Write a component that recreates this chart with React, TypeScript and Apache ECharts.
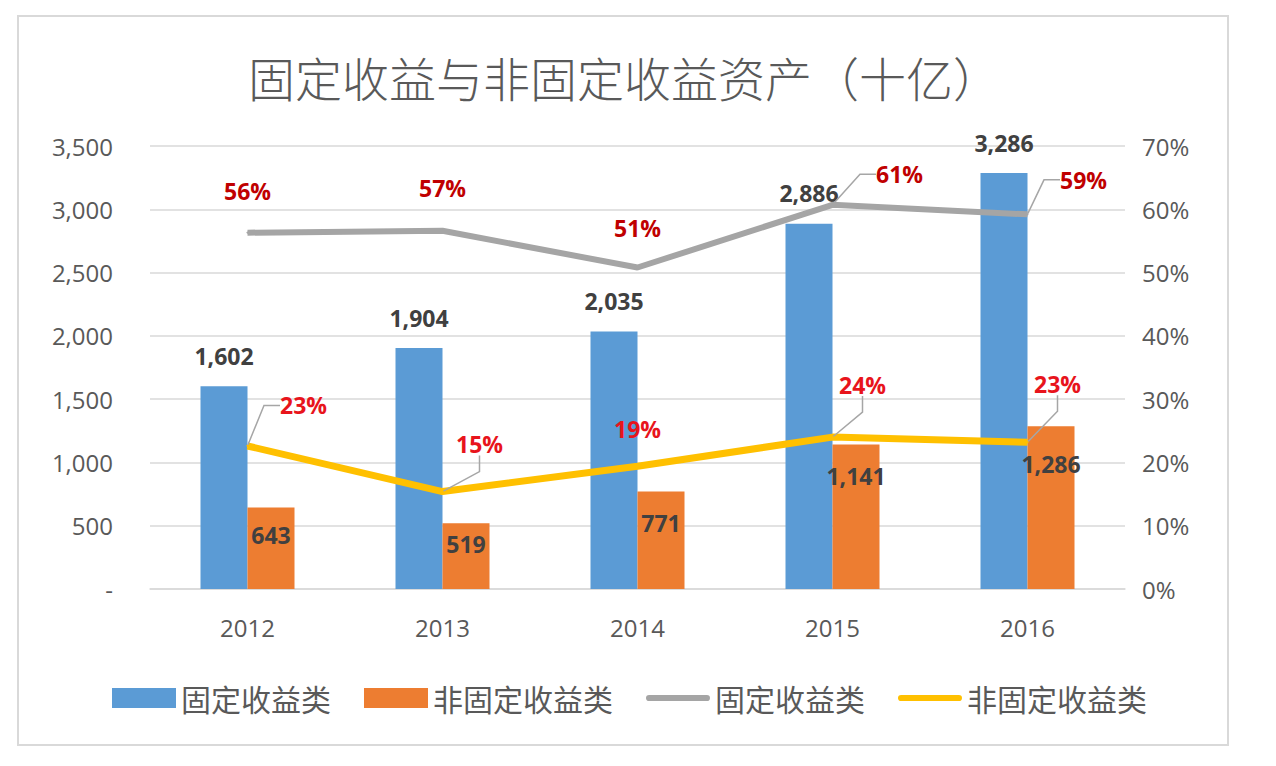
import React, { useEffect, useRef } from 'react';
import * as echarts from 'echarts';

const categories = ['2012', '2013', '2014', '2015', '2016'];
const fixedAssets = [1602, 1904, 2035, 2886, 3286];
const nonFixedAssets = [643, 519, 771, 1141, 1286];
const fixedShare = [56.3, 56.6, 50.8, 60.7, 59.2];
const nonFixedShare = [22.6, 15.4, 19.4, 24.0, 23.2];
const titleText = '固定收益与非固定收益资产（十亿）';
const seriesNames = ['固定收益类', '非固定收益类', '固定收益类占比', '非固定收益类占比'];

// label styling offsets (dx, dy) relative to default label positions
const grayShift = [[0, -24], [0, -25], [0, -22], [67, -13], [56, -17]];
const yellowShift = [[56, -23], [37, -30], [0, -20], [30, -35], [30, -41]];
const orangeShift = [0, -7, 4, 4, 10];

const FONT = '"Open Sans", "Noto Sans", sans-serif';
const CJK = '"Noto Sans CJK SC", "Noto Sans", sans-serif';

export default function App() {
  const ref = useRef<HTMLDivElement>(null);

  useEffect(() => {
    if (!ref.current) return;
    const chart = echarts.init(ref.current, undefined, { renderer: 'svg' });
    const legendIconLine = 'path://M3.5,0 H68.5 A3.5,3.5 0 0 1 68.5,7 H3.5 A3.5,3.5 0 0 1 3.5,0 Z';
    const pctLabel = (color: string) => ({
      show: true,
      position: 'top' as const,
      distance: 5,
      color,
      fontFamily: FONT,
      fontWeight: 'bold' as const,
      fontSize: 23,
      formatter: (p: any) => Math.round(p.value) + '%',
    });
    const leaderLine = {
      show: true,
      length2: 16,
      lineStyle: { color: '#a6a6a6', width: 1.5 },
    };

    chart.setOption({
      animation: false,
      backgroundColor: '#ffffff',
      title: {
        text: titleText,
        left: 243,
        top: 48,
        textStyle: { fontFamily: CJK, fontSize: 47, fontWeight: 300, color: '#595959' },
      },
      graphic: [
        {
          type: 'rect',
          shape: { x: 18, y: 16, width: 1210, height: 729 },
          style: { fill: 'none', stroke: '#d9d9d9', lineWidth: 2 },
          silent: true,
        },
      ],
      legend: {
        left: 107,
        top: 678,
        itemWidth: 64,
        itemHeight: 20,
        itemGap: 33,
        textStyle: { fontFamily: CJK, fontSize: 30, color: '#595959' },
        formatter: (name: string) => name.replace('占比', ''),
        data: [
          { name: seriesNames[0], icon: 'rect' },
          { name: seriesNames[1], icon: 'rect' },
          { name: seriesNames[2], icon: legendIconLine },
          { name: seriesNames[3], icon: legendIconLine },
        ],
      },
      grid: { left: 150, right: 151, top: 146, bottom: 177, containLabel: false },
      xAxis: {
        type: 'category',
        data: categories,
        axisLine: { show: true, lineStyle: { color: '#d9d9d9', width: 1.5 } },
        axisTick: { show: false },
        axisLabel: { color: '#595959', fontFamily: FONT, fontSize: 24, margin: 26 },
      },
      yAxis: [
        {
          type: 'value',
          min: 0,
          max: 3500,
          interval: 500,
          axisLine: { show: false },
          axisTick: { show: false },
          splitLine: { lineStyle: { color: '#d9d9d9', width: 1.5 } },
          axisLabel: {
            color: '#595959',
            fontFamily: FONT,
            fontSize: 24,
            margin: 37,
            formatter: (v: number) => (v === 0 ? '-' : v.toLocaleString('en-US')),
          },
        },
        {
          type: 'value',
          min: 0,
          max: 70,
          interval: 10,
          axisLine: { show: false },
          axisTick: { show: false },
          splitLine: { show: false },
          axisLabel: {
            color: '#595959',
            fontFamily: FONT,
            fontSize: 24,
            margin: 17,
            formatter: (v: number) => v + '%',
          },
        },
      ],
      series: [
        {
          name: seriesNames[0],
          type: 'bar',
          data: fixedAssets,
          barWidth: 47,
          barGap: '0%',
          itemStyle: { color: '#5b9bd5' },
          label: {
            show: true,
            position: 'top',
            distance: 19,
            color: '#404040',
            fontFamily: FONT,
            fontWeight: 'bold',
            fontSize: 23,
            formatter: (p: any) => p.value.toLocaleString('en-US'),
          },
        },
        {
          name: seriesNames[1],
          type: 'bar',
          data: nonFixedAssets,
          barWidth: 47,
          barGap: '0%',
          itemStyle: { color: '#ed7d31' },
          label: {
            show: true,
            position: 'insideTop',
            distance: 16,
            color: '#404040',
            fontFamily: FONT,
            fontWeight: 'bold',
            fontSize: 23,
            formatter: (p: any) => p.value.toLocaleString('en-US'),
          },
          labelLayout: (p: any) => ({ dy: orangeShift[p.dataIndex] }),
        },
        {
          name: seriesNames[2],
          type: 'line',
          yAxisIndex: 1,
          data: fixedShare.map((v, i) => ({ value: v, labelLine: { show: grayShift[i][0] !== 0 } })),
          symbol: 'circle',
          symbolSize: 2,
          lineStyle: { color: '#a5a5a5', width: 6 },
          itemStyle: { color: '#a5a5a5' },
          label: pctLabel('#c00000'),
          labelLine: leaderLine,
          labelLayout: (p: any) => ({ dx: grayShift[p.dataIndex][0], dy: grayShift[p.dataIndex][1] }),
          z: 3,
        },
        {
          name: seriesNames[3],
          type: 'line',
          yAxisIndex: 1,
          data: nonFixedShare.map((v, i) => ({ value: v, labelLine: { show: yellowShift[i][0] !== 0 } })),
          symbol: 'circle',
          symbolSize: 2,
          lineStyle: { color: '#ffc000', width: 7 },
          itemStyle: { color: '#ffc000' },
          label: pctLabel('#e8141c'),
          labelLine: leaderLine,
          labelLayout: (p: any) => ({ dx: yellowShift[p.dataIndex][0], dy: yellowShift[p.dataIndex][1] }),
          z: 3,
        },
      ],
    });
    return () => chart.dispose();
  }, []);

  return (
    <div
      ref={ref}
      style={{ position: 'fixed', left: 0, top: 0, width: 1276, height: 766, background: '#fff' }}
    />
  );
}
